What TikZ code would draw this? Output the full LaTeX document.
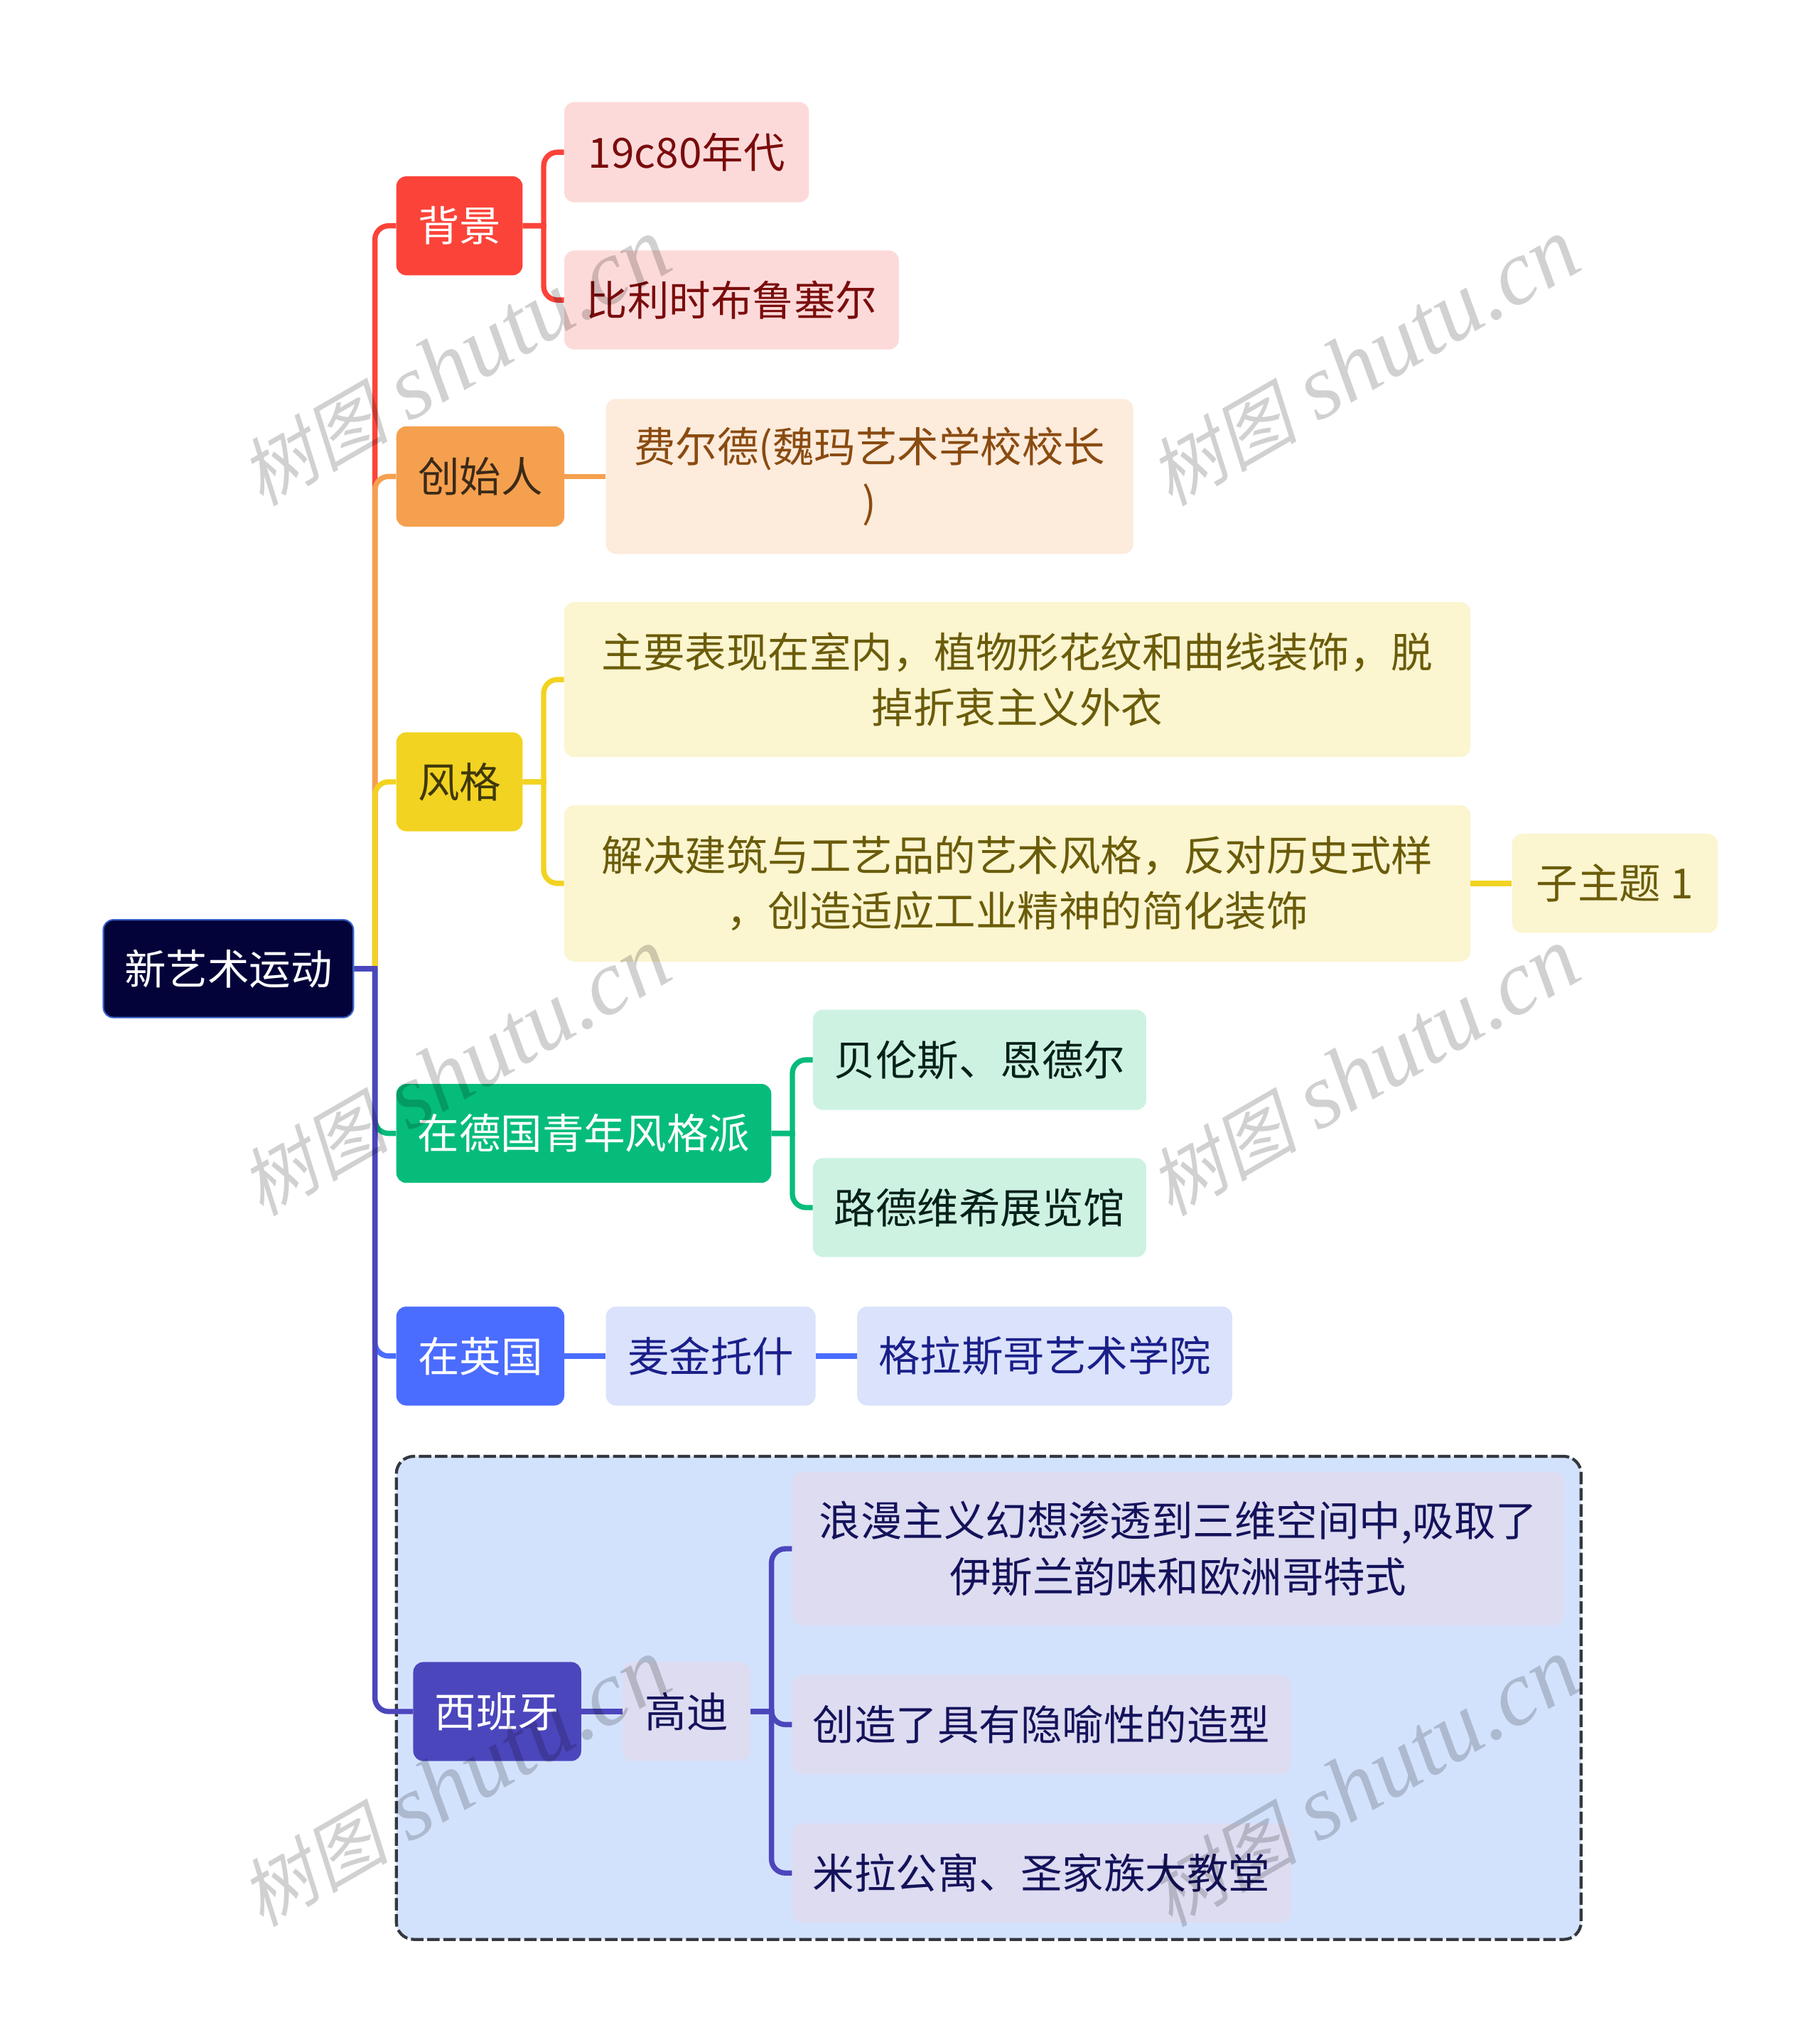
\documentclass[tikz,border=0pt]{standalone}
\usepackage{fontspec}
\setmainfont{Noto Sans CJK SC}
\newfontfamily\wmcjk[FakeSlant=0.22]{Noto Sans CJK SC}
\newfontfamily\wmlat{Liberation Serif}[ItalicFont=* Italic]
\definecolor{rootfill}{HTML}{03033A}
\definecolor{rootline}{HTML}{3A62C8}
\definecolor{cred}{HTML}{FB4339}
\definecolor{lred}{HTML}{FDDADA}
\definecolor{tred}{HTML}{7A0C0C}
\definecolor{corange}{HTML}{F5A04E}
\definecolor{lorange}{HTML}{FDEBDC}
\definecolor{torange}{HTML}{8A4B10}
\definecolor{torangedark}{HTML}{3B2A18}
\definecolor{cyellow}{HTML}{F2D321}
\definecolor{lyellow}{HTML}{FBF5D0}
\definecolor{tyellow}{HTML}{6B5C0A}
\definecolor{tyellowdark}{HTML}{3F380A}
\definecolor{cgreen}{HTML}{06BC7B}
\definecolor{lgreen}{HTML}{CDF2E2}
\definecolor{tgreen}{HTML}{06201A}
\definecolor{cblue}{HTML}{4A6CFF}
\definecolor{lblue}{HTML}{DBE2FB}
\definecolor{tblue}{HTML}{1A1F8A}
\definecolor{cindigo}{HTML}{4C46BD}
\definecolor{lindigo}{HTML}{DDDCF1}
\definecolor{tindigo}{HTML}{14125A}
\definecolor{regionfill}{HTML}{D3E2FC}
\definecolor{regionline}{HTML}{33383F}
\newcommand{\bx}[7]{%
  \pgfmathsetmacro{\bxw}{(#4-#2)*1.0463}%
  \pgfmathsetmacro{\bxh}{(#5-#3)*1.0463}%
  \node[boxbase,#6,minimum width=\bxw pt,minimum height=\bxh pt] (#1) at ({(#2+#4)/2},{(#3+#5)/2}) {#7};%
}
\newcommand{\wm}[3]{%
  \node[wmark] (#1) at (#2,#3) {{\wmcjk\fontsize{60}{60}\selectfont 树图} {\wmlat\itshape shutu.cn}};%
}
% fork: square tee at the parent, rounded elbow at the child
\newcommand{\fork}[3]{%
  \draw[conn=#1] (#2.east) -- ++(18,0) (#2.east) ++(16,0) |- (#3.west);%
}
\tikzset{
  boxbase/.style={rounded corners=8pt,inner sep=0pt,align=center,font=\fontsize{33.4}{45}\selectfont},
  root/.style={fill=rootfill,draw=rootline,line width=1.2pt,text=white},
  mred/.style={fill=cred,text=white},
  sred/.style={fill=lred,text=tred},
  morange/.style={fill=corange,text=torangedark},
  sorange/.style={fill=lorange,text=torange},
  myellow/.style={fill=cyellow,text=tyellowdark},
  syellow/.style={fill=lyellow,text=tyellow},
  mgreen/.style={fill=cgreen,text=white},
  sgreen/.style={fill=lgreen,text=tgreen},
  mblue/.style={fill=cblue,text=white},
  sblue/.style={fill=lblue,text=tblue},
  mindigo/.style={fill=cindigo,text=white},
  sindigo/.style={fill=lindigo,text=tindigo},
  conn/.style={draw=#1,line width=4.2pt,rounded corners=11pt},
  region/.style={fill=regionfill,draw=regionline,line width=2.4pt,dash pattern=on 10pt off 3pt},
  wmark/.style={rotate=30,text=black,text opacity=0.18,inner sep=0pt,font=\fontsize{74}{74}\selectfont}
}
\begin{document}
\begin{tikzpicture}[x=0.03678cm,y=-0.03678cm]
\useasboundingbox (-0.4,-0.4) rectangle (1397,1567.8);
\fill[white] (-0.4,-0.4) rectangle (1397,1567.8);
% dashed region
\bx{spainregion}{304}{1118}{1214}{1489}{region,rounded corners=14pt}{}
% nodes
\bx{rootn}{79}{706}{271}{781}{root}{新艺术运动}
\bx{bg}{304}{135}{401}{211}{mred}{背景}
\bx{bga}{433}{78}{621}{155}{sred}{19c80年代}
\bx{bgb}{433}{192}{690}{268}{sred}{比利时布鲁塞尔}
\bx{founder}{304}{327}{433}{404}{morange}{创始人}
\bx{foundera}{465}{306}{870}{425}{sorange}{费尔德(魏玛艺术学校校长\\)}
\bx{fstyle}{304}{562}{401}{638}{myellow}{风格}
\bx{stylea}{433}{462}{1129}{581}{syellow}{主要表现在室内，植物形花纹和曲线装饰，脱\\掉折衷主义外衣}
\bx{styleb}{433}{618}{1129}{738}{syellow}{解决建筑与工艺品的艺术风格，反对历史式样\\，创造适应工业精神的简化装饰}
\bx{stylec}{1161}{640}{1319}{716}{syellow}{子主题 1}
\bx{german}{304}{832}{592}{908}{mgreen}{在德国青年风格派}
\bx{germana}{624}{775}{880}{852}{sgreen}{贝伦斯、恩德尔}
\bx{germanb}{624}{889}{880}{965}{sgreen}{路德维希展览馆}
\bx{british}{304}{1003}{433}{1079}{mblue}{在英国}
\bx{britisha}{465}{1003}{626}{1079}{sblue}{麦金托什}
\bx{britishb}{658}{1003}{946}{1079}{sblue}{格拉斯哥艺术学院}
\bx{spain}{317}{1276}{446}{1352}{mindigo}{西班牙}
\bx{gaudi}{478}{1276}{576}{1352}{sindigo}{高迪}
\bx{gaudia}{608}{1130}{1201}{1248}{sindigo}{浪漫主义幻想渗透到三维空间中,吸取了\\伊斯兰韵味和欧洲哥特式}
\bx{gaudib}{608}{1286}{991}{1362}{sindigo}{创造了具有隐喻性的造型}
\bx{gaudic}{608}{1400}{991}{1476}{sindigo}{米拉公寓、圣家族大教堂}
% connectors from root
\fork{cred}{rootn}{bg}
\fork{corange}{rootn}{founder}
\fork{cyellow}{rootn}{fstyle}
\fork{cgreen}{rootn}{german}
\fork{cblue}{rootn}{british}
\fork{cindigo}{rootn}{spain}
% branch connectors
\fork{cred}{bg}{bga}
\fork{cred}{bg}{bgb}
\draw[conn=corange] (founder.east) -- (foundera.west);
\fork{cyellow}{fstyle}{stylea}
\fork{cyellow}{fstyle}{styleb}
\draw[conn=cyellow] (styleb.east) -- (stylec.west);
\fork{cgreen}{german}{germana}
\fork{cgreen}{german}{germanb}
\draw[conn=cblue] (british.east) -- (britisha.west);
\draw[conn=cblue] (britisha.east) -- (britishb.west);
\draw[conn=cindigo] (spain.east) -- (gaudi.west);
\fork{cindigo}{gaudi}{gaudia}
\fork{cindigo}{gaudi}{gaudib}
\fork{cindigo}{gaudi}{gaudic}
% watermarks
\wm{wma}{349}{278}
\wm{wmb}{1047}{278}
\wm{wmc}{349}{823}
\wm{wmd}{1047}{823}
\wm{wme}{349}{1369}
\wm{wmf}{1047}{1369}
\end{tikzpicture}
\end{document}
